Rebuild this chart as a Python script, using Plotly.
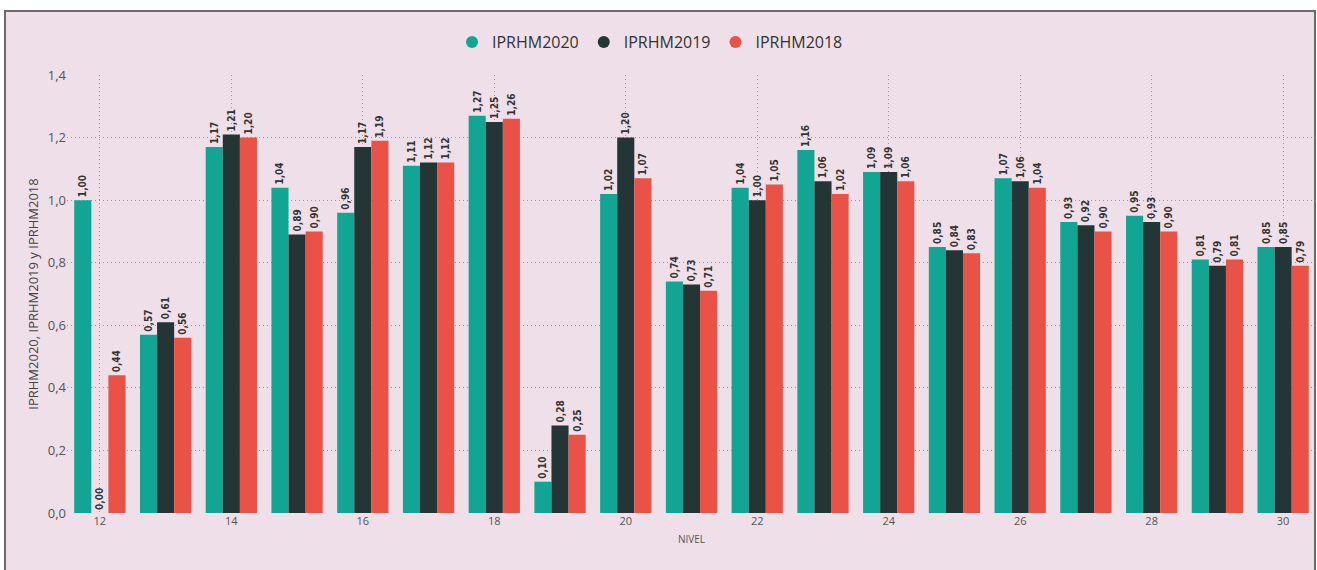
import plotly.graph_objects as go

# Niveles y valores del índice por año
niveles = list(range(12, 31))
iprhm2020 = [1.00, 0.57, 1.17, 1.04, 0.96, 1.11, 1.27, 0.10, 1.02, 0.74,
             1.04, 1.16, 1.09, 0.85, 1.07, 0.93, 0.95, 0.81, 0.85]
iprhm2019 = [0.00, 0.61, 1.21, 0.89, 1.17, 1.12, 1.25, 0.28, 1.20, 0.73,
             1.00, 1.06, 1.09, 0.84, 1.06, 0.92, 0.93, 0.79, 0.85]
iprhm2018 = [0.44, 0.56, 1.20, 0.90, 1.19, 1.12, 1.26, 0.25, 1.07, 0.71,
             1.05, 1.02, 1.06, 0.83, 1.04, 0.90, 0.90, 0.81, 0.79]

series = [
    ("IPRHM2020", iprhm2020, "#13A594"),
    ("IPRHM2019", iprhm2019, "#243535"),
    ("IPRHM2018", iprhm2018, "#EA5248"),
]

W, H = 1317, 570
ML, MR, MT, MB = 67, 1, 75, 57
BG = "#EEDFE8"
GRID = "#9C949A"

fig = go.Figure()
for name, vals, color in series:
    fig.add_trace(go.Bar(
        x=niveles, y=vals, name=name, marker_color=color,
        marker_line_width=0,
        texttemplate="%{y:.2f}", textposition="outside", textangle=-90,
        textfont=dict(family="DejaVu Sans Condensed, DejaVu Sans", size=10,
                      color="#333333", weight="bold"),
        cliponaxis=False, showlegend=False,
    ))
    # circular legend marker
    fig.add_trace(go.Scatter(
        x=[None], y=[None], mode="markers", name=name,
        marker=dict(color=color, size=11, symbol="circle"),
    ))

pw = W - ML - MR
ph = H - MT - MB
# outer frame of the visual
fig.add_shape(
    type="rect", xref="paper", yref="paper", layer="below",
    x0=(5 - ML) / pw, x1=(1315 - ML) / pw,
    y0=-(H + 10 - MT - ph) / ph, y1=(H - MB - 11) / ph,
    fillcolor=BG, line=dict(color="#6B6B6B", width=2),
)

fig.update_layout(
    width=W, height=H,
    margin=dict(l=ML, r=MR, t=MT, b=MB),
    paper_bgcolor="white", plot_bgcolor="rgba(0,0,0,0)",
    barmode="group", bargap=0.22, bargroupgap=0,
    separators=",.",
    uniformtext=dict(minsize=8, mode="show"),
    font=dict(family="Open Sans, Noto Sans", color="#444444"),
    legend=dict(
        orientation="h", x=(650 - ML) / pw, xanchor="center",
        y=(H - MB - 42) / ph, yanchor="middle",
        font=dict(size=16, color="#333333"),
        itemwidth=30, itemsizing="constant", tracegroupgap=0,
        bgcolor="rgba(0,0,0,0)",
    ),
    xaxis=dict(
        range=[11.5, 30.5], tickmode="linear", tick0=12, dtick=2,
        showgrid=True, gridcolor=GRID, griddash="1px,3px", gridwidth=1,
        zeroline=False, showline=False, ticks="",
        tickfont=dict(size=11, color="#555555"),
        title=dict(text="NIVEL", font=dict(size=10, color="#555555"), standoff=8),
    ),
    yaxis=dict(
        range=[0, 1.4], tickmode="linear", tick0=0, dtick=0.2, tickformat=".1f",
        showgrid=True, gridcolor=GRID, griddash="1px,3px", gridwidth=1,
        zeroline=False, showline=False, ticks="",
        tickfont=dict(size=13, color="#555555"),
        title=dict(text="IPRHM2020, IPRHM2019 y IPRHM2018",
                   font=dict(size=13, color="#444444"), standoff=6),
    ),
)

fig.write_html("out.html")
